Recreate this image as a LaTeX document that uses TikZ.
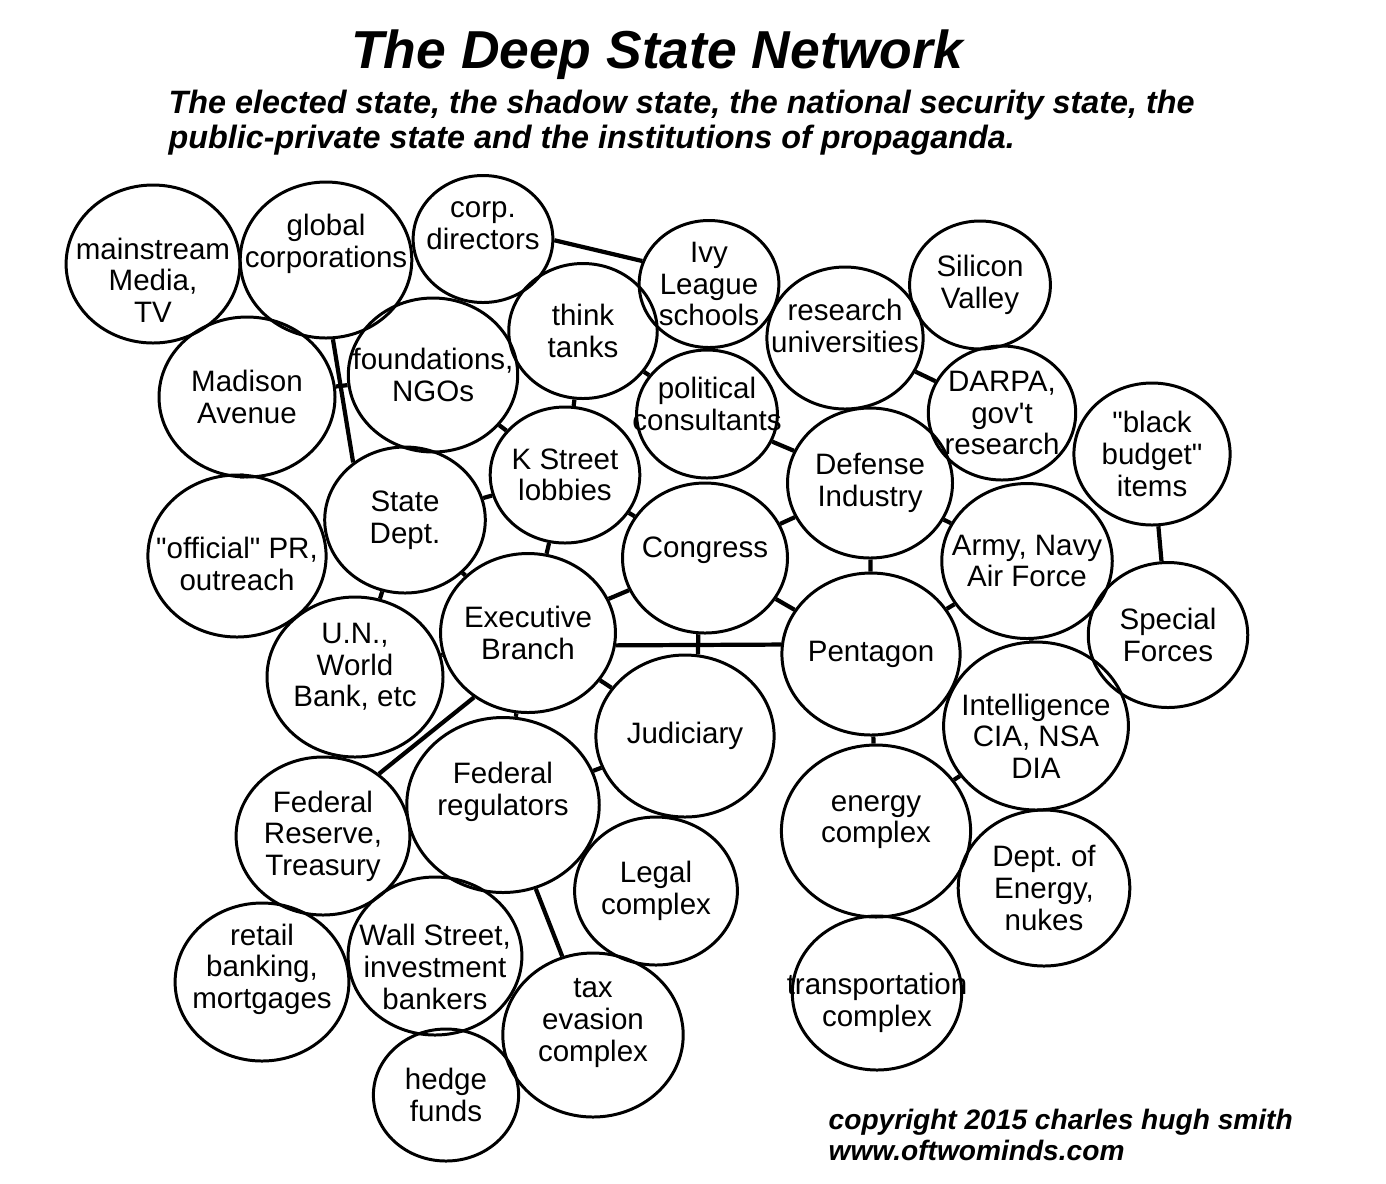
\documentclass[tikz,border=0pt]{standalone}
\usepackage{fontspec}
\setmainfont{Liberation Sans}
\usepackage{tikz}
\usetikzlibrary{shapes.geometric}
\frenchspacing

\newcommand{\bubfont}{\fontsize{8.4}{9}\selectfont}

\begin{document}
\begin{tikzpicture}[
    bubble/.style={shape=ellipse, draw, line width=0.85pt, inner sep=0pt, minimum height=#1cm, minimum width=#1*1.1cm},
    word/.style={align=center, font=\bubfont, inner sep=0pt},
    link/.style={line width=1.2pt},
    heading/.style={font=\fontsize{15.2}{18}\selectfont\bfseries\itshape, anchor=base, inner sep=0pt},
    subhead/.style={font=\fontsize{9.2}{10}\selectfont\bfseries\itshape, anchor=base west, inner sep=0pt},
    credit/.style={font=\fontsize{8}{9}\selectfont\bfseries\itshape, anchor=base west, inner sep=0pt}
]
    \useasboundingbox (0,0) rectangle (13.86,-11.83);

    % Title
    \node[heading] (title) at (6.57,-0.68) {The Deep State Network};
    \node[subhead] (sub1) at (1.68,-1.13) {The elected state, the shadow state, the national security state, the};
    \node[subhead] (sub2) at (1.68,-1.48) {public-private state and the institutions of propaganda.};

    % Top row
    \node[bubble=1.58, label={[word, yshift=-1.6mm]center:mainstream\\Media,\\TV}] (media) at (1.53,-2.64) {};
    \node[bubble=1.56, label={[word, yshift=1.6mm]center:global\\corporations}] (globalcorp) at (3.26,-2.60) {};
    \node[bubble=1.27, label={[word, yshift=1.3mm]center:corp.\\directors}] (corpdir) at (4.83,-2.39) {};
    \node[bubble=1.27, label={[word]center:Ivy\\League\\schools}] (ivy) at (7.09,-2.84) {};
    \node[bubble=1.35, label={[word]center:think\\tanks}] (think) at (5.83,-3.31) {};
    \node[bubble=1.42, label={[word, yshift=1.2mm]center:research\\universities}] (research) at (8.45,-3.38) {};
    \node[bubble=1.28, label={[word]center:Silicon\\Valley}] (silicon) at (9.80,-2.85) {};

    % Second row
    \node[bubble=1.60, label={[word]center:Madison\\Avenue}] (madison) at (2.47,-3.97) {};
    \node[bubble=1.54, label={[word]center:foundations,\\NGOs}] (found) at (4.33,-3.75) {};
    \node[bubble=1.28, label={[word, yshift=1mm]center:political\\consultants}] (polcons) at (7.07,-4.14) {};
    \node[bubble=1.36, label={[word]center:K Street\\lobbies}] (kstreet) at (5.65,-4.75) {};
    \node[bubble=1.34, label={[word]center:DARPA,\\gov\textquotesingle t\\research}] (darpa) at (10.02,-4.13) {};
    \node[bubble=1.42, label={[word]center:\textquotedbl black\\budget\textquotedbl\\items}] (black) at (11.52,-4.54) {};
    \node[bubble=1.50, label={[word]center:Defense\\Industry}] (defense) at (8.70,-4.83) {};

    % Middle
    \node[bubble=1.46, label={[word]center:State\\Dept.}] (state) at (4.05,-5.20) {};
    \node[bubble=1.62, label={[word, yshift=-0.8mm]center:\textquotedbl official\textquotedbl{} PR,\\outreach}] (pr) at (2.37,-5.56) {};
    \node[bubble=1.50, label={[word, yshift=0.8mm]center:Congress}] (congress) at (7.05,-5.58) {};
    \node[bubble=1.55, label={[word]center:Army, Navy\\Air Force}] (army) at (10.27,-5.61) {};
    \node[bubble=1.45, label={[word]center:Special\\Forces}] (special) at (11.68,-6.35) {};
    \node[bubble=1.60, label={[word, yshift=1mm]center:U.N.,\\World\\Bank, etc}] (un) at (3.55,-6.77) {};
    \node[bubble=1.59, label={[word]center:Executive\\Branch}] (exec) at (5.28,-6.33) {};
    \node[bubble=1.62, label={[word]center:Pentagon}] (pentagon) at (8.71,-6.54) {};
    \node[bubble=1.68, label={[word, yshift=-1mm]center:Intelligence\\CIA, NSA\\DIA}] (intel) at (10.36,-7.26) {};
    \node[bubble=1.62, label={[word]center:Judiciary}] (judiciary) at (6.85,-7.36) {};

    % Lower part
    \node[bubble=1.75, label={[word, yshift=1.3mm]center:Federal\\regulators}] (fedreg) at (5.03,-8.05) {};
    \node[bubble=1.58, label={[word]center:Federal\\Reserve,\\Treasury}] (fedres) at (3.23,-8.36) {};
    \node[bubble=1.72, label={[word, yshift=0.9mm]center:energy\\complex}] (energy) at (8.76,-8.31) {};
    \node[bubble=1.48, label={[word]center:Legal\\complex}] (legal) at (6.56,-8.91) {};
    \node[bubble=1.56, label={[word]center:Dept. of\\Energy,\\nukes}] (doe) at (10.44,-8.88) {};
    \node[bubble=1.58, label={[word, yshift=1.3mm]center:retail\\banking,\\mortgages}] (retail) at (2.62,-9.82) {};
    \node[bubble=1.58, label={[word, yshift=-1.1mm]center:Wall Street,\\investment\\bankers}] (wall) at (4.35,-9.56) {};
    \node[bubble=1.54, label={[word, yshift=-1mm]center:transportation\\complex}] (transport) at (8.77,-9.93) {};
    \node[bubble=1.64, label={[word, yshift=1.2mm]center:tax\\evasion\\complex}] (tax) at (5.93,-10.35) {};
    \node[bubble=1.32, label={[word]center:hedge\\funds}] (hedge) at (4.46,-10.95) {};

    % Credit
    \node[credit] (copy1) at (8.28,-11.29) {copyright 2015 charles hugh smith};
    \node[credit] (copy2) at (8.28,-11.60) {www.oftwominds.com};

    % Links
    \draw[link] (corpdir.-1) -- (ivy.161);
    \draw[link] (globalcorp.-85) -- (state.132);
    \draw[link] (madison) -- (found);
    \draw[link] (ivy) -- (polcons);
    \draw[link] (think) -- (polcons);
    \draw[link] (think) -- (kstreet);
    \draw[link] (found) -- (kstreet);
    \draw[link] (research) -- (darpa);
    \draw[link] (polcons) -- (defense);
    \draw[link] (kstreet) -- (state);
    \draw[link] (kstreet) -- (exec);
    \draw[link] (kstreet) -- (congress);
    \draw[link] (state) -- (exec);
    \draw[link] (state) -- (un);
    \draw[link] (madison) -- (pr);
    \draw[link] (un) -- (exec);
    \draw[link] (exec.-130) -- (fedres.48);
    \draw[link] (exec) -- (fedreg);
    \draw[link] (exec) -- (congress);
    \draw[link] (exec.-8) -- (pentagon.174);
    \draw[link] (congress.-95) -- (judiciary.81);
    \draw[link] (exec) -- (judiciary);
    \draw[link] (congress) -- (pentagon);
    \draw[link] (congress) -- (defense);
    \draw[link] (defense) -- (pentagon);
    \draw[link] (defense) -- (army);
    \draw[link] (pentagon) -- (army);
    \draw[link] (army) -- (intel);
    \draw[link] (black) -- (special);
    \draw[link] (pentagon) -- (energy);
    \draw[link] (energy) -- (intel);
    \draw[link] (judiciary) -- (fedreg);
    \draw[link] (fedreg) -- (tax);

\end{tikzpicture}
\end{document}
